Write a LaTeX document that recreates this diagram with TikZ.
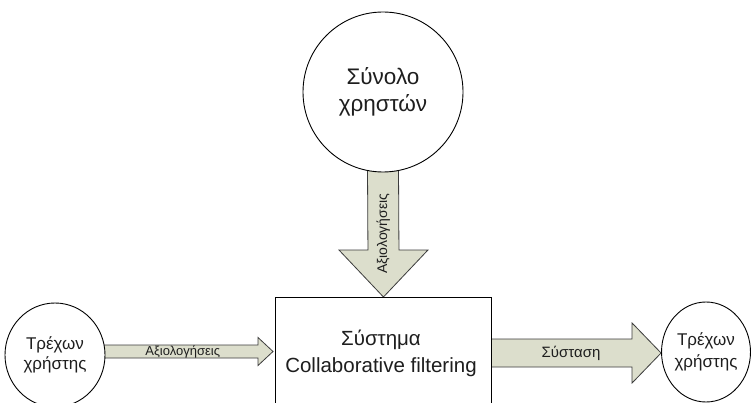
\documentclass[tikz,border=0pt]{standalone}
\usepackage{fontspec}
\setmainfont{Liberation Sans}
\usetikzlibrary{shapes.geometric,calc,backgrounds}
\definecolor{arrowfill}{RGB}{220,222,204}
\definecolor{arrowline}{RGB}{60,60,60}
\definecolor{txt}{RGB}{30,30,30}
\begin{document}
\begin{tikzpicture}[x=1pt,y=-1pt,
  ring/.style={draw=black,line width=0.9pt,fill=white,inner sep=0pt,text=txt,align=center},
  blockarrow/.style={draw=arrowline,fill=arrowfill,line width=0.8pt,line join=miter},
  lbl/.style={text=txt,inner sep=0pt}]
\useasboundingbox (0,0) rectangle (754,403);
\clip (0,0) rectangle (754,403);
% nodes
\node[ring,circle,minimum size=160pt,font=\fontsize{22.5}{27}\selectfont] (T) at (383,92) {Σύνολο\\χρηστών};
\node[ring,ellipse,minimum width=100pt,minimum height=104pt,font=\fontsize{17}{20}\selectfont] (L) at (55,355) {Τρέχων\\χρήστης};
\node[ring,ellipse,minimum width=88pt,minimum height=100pt,font=\fontsize{17}{22}\selectfont] (R) at (706,352) {Τρέχων\\χρήστης};
\node[draw=black,line width=0.9pt,fill=white,minimum width=216pt,minimum height=130pt,anchor=north west,inner sep=0pt] (B) at (275,297) {};
\node[lbl,align=center,font=\fontsize{20.5}{27}\selectfont] (BT) at (381,353) {Σύστημα\\Collaborative filtering};
% connectors (block arrows) behind the nodes
\begin{pgfonlayer}{background}
\fill[white] (0,0) rectangle (754,403);
% vertical arrow
\coordinate (vs) at ($(T.south)+(0,-4)$);
\coordinate (vt) at (B.north);
\draw[blockarrow] ($(vs)+(-15.5,0)$) -- ($(vt)+(-15.5,-47)$) -- ($(vt)+(-44.5,-47)$) -- (vt)
  -- ($(vt)+(44.5,-47)$) -- ($(vt)+(15.5,-47)$) -- ($(vs)+(15.5,0)$) -- cycle;
% left arrow
\coordinate (ls) at ($(L.east)+(-3,-3.5)$);
\coordinate (lt0) at (B.west |- ls);
\coordinate (lt) at ($(lt0)+(-2,0)$);
\draw[blockarrow] ($(ls)+(0,-6.5)$) -- ($(lt)+(-15,-6.5)$) -- ($(lt)+(-15,-14)$) -- (lt)
  -- ($(lt)+(-15,14)$) -- ($(lt)+(-15,6.5)$) -- ($(ls)+(0,6.5)$) -- cycle;
% right arrow
\coordinate (rs0) at (B.east |- R.west);
\coordinate (rs) at ($(rs0)+(-3,1)$);
\coordinate (rt) at ($(R.west)+(0,1)$);
\draw[blockarrow] ($(rs)+(0,-14)$) -- ($(rt)+(-29,-14)$) -- ($(rt)+(-29,-30)$) -- (rt)
  -- ($(rt)+(-29,30)$) -- ($(rt)+(-29,14)$) -- ($(rs)+(0,14)$) -- cycle;
\end{pgfonlayer}
% arrow labels
\node[lbl,font=\fontsize{13}{13}\selectfont] (la) at ($(ls)!0.5!(lt)+(-5,0)$) {Αξιολογήσεις};
\node[lbl,font=\fontsize{15}{15}\selectfont] (ra) at ($(rs)!0.5!(rt)+(-4,0)$) {Σύσταση};
\node[lbl,rotate=90,font=\fontsize{14}{14}\selectfont] (va) at ($(vs)!0.5!(vt)+(0,1)$) {Αξιολογήσεις};
\end{tikzpicture}
\end{document}
